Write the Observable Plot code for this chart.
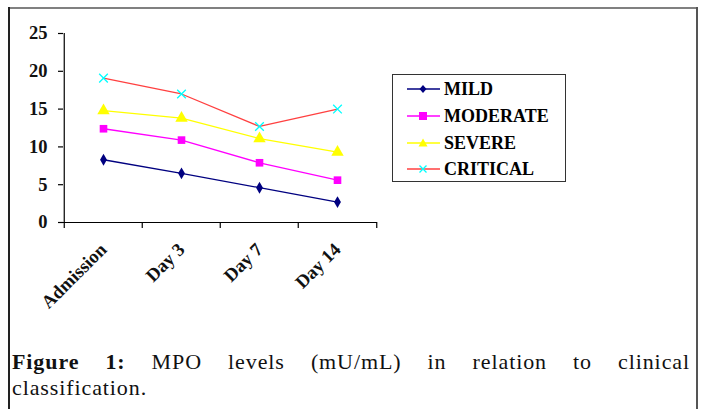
<!DOCTYPE html>
<html>
<head>
<meta charset="utf-8">
<script src="https://cdn.jsdelivr.net/npm/d3@7"></script>
<script src="https://cdn.jsdelivr.net/npm/@observablehq/plot@0.6"></script>
<style>
  html, body { margin: 0; padding: 0; background: #fff; }
  #wrap { position: relative; width: 703px; height: 409px; overflow: hidden; background: #fff; }
  #chart { position: absolute; left: 0; top: 0; }
  .bt { position: absolute; left: 8px; top: 7px; width: 690px; height: 2px; background: #808080; }
  .bl { position: absolute; left: 8px; top: 7px; width: 1.5px; height: 420px; background: #222; }
  .br { position: absolute; left: 696px; top: 7px; width: 1.5px; height: 420px; background: #555; }
  #legend { position: absolute; left: 392px; top: 74px; width: 172px; height: 106px; border: 1.3px solid #333;
            font-family: "Liberation Serif", "Times New Roman", serif; font-weight: bold; font-size: 18px; color: #000; }
  .row { position: absolute; left: 14px; height: 20px; display: flex; align-items: center; }
  .row svg { margin-right: 4px; }
  #caption { position: absolute; left: 12px; top: 349px; width: 678px;
             font-family: "Liberation Serif", "Times New Roman", serif; font-size: 22px; line-height: 26px;
             letter-spacing: 0.9px; color: #111; }
  #caption .l1 { text-align: justify; text-align-last: justify; }
  #caption b { font-weight: bold; }
</style>
</head>
<body>
<div id="wrap">
  <div id="chart"></div>
  <div class="bt"></div><div class="bl"></div><div class="br"></div>
  <div id="legend"></div>
  <div id="caption"><div class="l1"><b>Figure 1:</b> MPO levels (mU/mL) in relation to clinical</div><div>classification.</div></div>
</div>
<script>
// ---- data ----
const categories = ["Admission", "Day 3", "Day 7", "Day 14"];
const seriesNames = ["MILD", "MODERATE", "SEVERE", "CRITICAL"];
const mild = [8.3, 6.5, 4.6, 2.7];
const moderate = [12.4, 10.9, 7.9, 5.6];
const severe = [14.8, 13.8, 11.1, 9.3];
const critical = [19.1, 17.0, 12.7, 15.0];
const yTicks = [0, 5, 10, 15, 20, 25];

const seriesValues = [mild, moderate, severe, critical];
const lineColors = ["#000080", "#ff00ff", "#ffff00", "#ff4040"];
const markColors = ["#000080", "#ff00ff", "#ffff00", "#00ffff"];
const symbols = ["diamond", "square", "triangle", "times"];
const radii = [3.6, 4.3, 4.6, 4.0];

const rows = [];
seriesNames.forEach((s, si) => categories.forEach((c, ci) => rows.push({series: s, si, cat: c, value: seriesValues[si][ci]})));

const W = 703, H = 330, mL = 63, mR = 326, mT = 33, mB = 108;
const bw = (W - mL - mR) / categories.length;
const font = "Liberation Serif, Times New Roman, serif";
const first = [categories[0]];
const last = [categories[categories.length - 1]];

const marks = [
  Plot.ruleY([0], {stroke: "#000", strokeWidth: 1.2}),
  Plot.ruleX(first, {x: d => d, dx: -bw / 2, stroke: "#000", strokeWidth: 1.2}),
  Plot.ruleX(categories, {x: d => d, y1: 0, y2: -0.8, dx: -bw / 2, stroke: "#000", strokeWidth: 1.2}),
  Plot.ruleX(last, {x: d => d, y1: 0, y2: -0.8, dx: bw / 2, stroke: "#000", strokeWidth: 1.2}),
  Plot.axisY({ticks: yTicks, tickSize: 5, tickPadding: 11, stroke: "#000", strokeWidth: 1.2,
              fontFamily: font, fontSize: 18.5, fontWeight: "bold", fill: "#111", label: null}),
  Plot.axisX({tickSize: 0, tickRotate: -45, tickPadding: 24, fontFamily: font, fontSize: 18.5,
              fontWeight: "bold", fill: "#111", label: null})
];
seriesNames.forEach((s, si) => {
  const d = rows.filter(r => r.si === si);
  marks.push(Plot.line(d, {x: "cat", y: "value", stroke: lineColors[si], strokeWidth: 1.3}));
  if (symbols[si] === "times") {
    marks.push(Plot.dot(d, {x: "cat", y: "value", symbol: "times", r: radii[si], stroke: markColors[si], strokeWidth: 1.3}));
  } else {
    marks.push(Plot.dot(d, {x: "cat", y: "value", symbol: symbols[si], r: radii[si], fill: markColors[si], stroke: "none"}));
  }
});

const chart = Plot.plot({
  width: W, height: H,
  marginLeft: mL, marginRight: mR, marginTop: mT, marginBottom: mB,
  x: {type: "band", domain: categories, padding: 0},
  y: {domain: [0, 25]},
  style: {background: "transparent", overflow: "visible"},
  marks
});
document.getElementById("chart").appendChild(chart);

// ---- legend ----
const legend = document.getElementById("legend");
const rowTops = [4, 31, 58, 84];
seriesNames.forEach((s, si) => {
  const row = document.createElement("div");
  row.className = "row";
  row.style.top = rowTops[si] + "px";
  const sym = symbols[si];
  let shape;
  if (sym === "diamond") shape = `<path d="M16,6 L19.5,10 L16,14 L12.5,10 Z" fill="${markColors[si]}"/>`;
  else if (sym === "square") shape = `<rect x="12" y="6" width="8" height="8" fill="${markColors[si]}"/>`;
  else if (sym === "triangle") shape = `<path d="M16,5.5 L20.5,13.5 L11.5,13.5 Z" fill="${markColors[si]}"/>`;
  else shape = `<path d="M12.5,6.5 L19.5,13.5 M19.5,6.5 L12.5,13.5" stroke="${markColors[si]}" stroke-width="1.3"/>`;
  row.innerHTML = `<svg width="33" height="20"><line x1="0" y1="10" x2="33" y2="10" stroke="${lineColors[si]}" stroke-width="1.3"/>${shape}</svg><span>${s}</span>`;
  legend.appendChild(row);
});
</script>
</body>
</html>
